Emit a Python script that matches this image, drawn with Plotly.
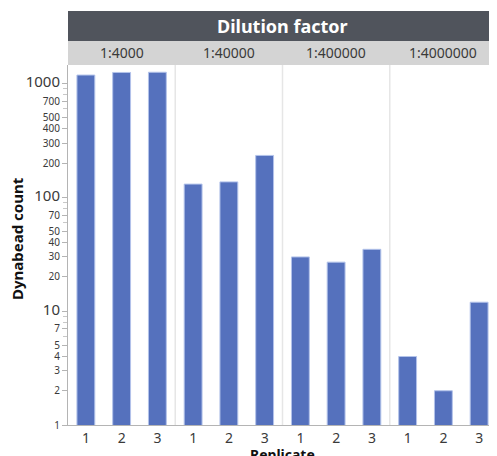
import plotly.graph_objects as go
from plotly.subplots import make_subplots

dilutions = ["1:4000", "1:40000", "1:400000", "1:4000000"]
replicates = ["1", "2", "3"]
counts = {
    "1:4000": [1190, 1255, 1260],
    "1:40000": [131, 137, 234],
    "1:400000": [30, 27, 35],
    "1:4000000": [4, 2, 12],
}
major_ticks = [1, 10, 100, 1000]
labeled_minor = [2, 3, 4, 5, 7, 20, 30, 40, 50, 70, 200, 300, 400, 500, 700]
unlabeled_minor = [6, 8, 9, 60, 80, 90, 600, 800, 900]

FONT = "Noto Sans"
BAR = "#5571bd"
EDGE = "#b3c3ea"
TXT = "#3a3a3a"

fig = make_subplots(rows=1, cols=4, shared_yaxes=True, horizontal_spacing=0)
for i, d in enumerate(dilutions):
    fig.add_trace(go.Bar(x=replicates, y=counts[d], width=0.5,
                         marker=dict(color=BAR, line=dict(color=EDGE, width=1)),
                         showlegend=False), row=1, col=i + 1)
    fig.update_xaxes(type="category", showline=True, linecolor="#b4b4b4", linewidth=1,
                     ticks="", showgrid=False, zeroline=False,
                     tickfont=dict(family=FONT, size=14, color=TXT), row=1, col=i + 1)

vals = sorted(major_ticks + labeled_minor)
texts = []
for v in vals:
    if v in major_ticks and v != 1:
        texts.append(f'<span style="font-size:15px">{v}</span>')
    else:
        texts.append(f'<span style="font-size:10px">{v}</span>')

fig.update_yaxes(type="log", range=[0, 3.164], showgrid=False, zeroline=False, automargin=False)
for c in [2, 3, 4]:
    fig.update_yaxes(showticklabels=False, ticks="", showline=False, row=1, col=c)

fig.update_yaxes(tickmode="array", tickvals=vals, ticktext=texts,
                 ticks="outside", ticklen=5, tickcolor="#b4b4b4",
                 showline=True, linecolor="#b4b4b4", linewidth=1,
                 tickfont=dict(family=FONT, size=10, color=TXT),
                 minor=dict(tickmode="array", tickvals=unlabeled_minor, ticks="outside",
                            ticklen=4, tickcolor="#c8c8c8", showgrid=False),
                 row=1, col=1)

H = 360.0
shapes = []
shapes.append(dict(type="rect", xref="paper", yref="paper", x0=0, x1=1,
                   y0=1 + 24 / H, y1=1 + 54 / H, fillcolor="#50545c", line=dict(width=0), layer="above"))
shapes.append(dict(type="rect", xref="paper", yref="paper", x0=0, x1=1,
                   y0=1, y1=1 + 24 / H, fillcolor="#d4d4d4", line=dict(width=0), layer="above"))
for b in [0.25, 0.5, 0.75]:
    shapes.append(dict(type="line", xref="paper", yref="paper", x0=b, x1=b, y0=0, y1=1,
                       line=dict(color="#e6e6e6", width=1.5), layer="below"))

annotations = [dict(text="<b>Dilution factor</b>", xref="paper", yref="paper", x=0.5, y=1 + 39 / H,
                    showarrow=False, font=dict(family=FONT, size=18, color="white"),
                    xanchor="center", yanchor="middle")]
for i, d in enumerate(dilutions):
    annotations.append(dict(text=d, xref="paper", yref="paper", x=(i + 0.5) / 4, y=1 + 12 / H,
                            showarrow=False, font=dict(family=FONT, size=14, color=TXT),
                            xanchor="center", yanchor="middle"))
annotations.append(dict(text="<b>Dynabead count</b>", xref="paper", yref="paper", x=-51 / 429,
                        y=(425 - 239) / H, textangle=-90, showarrow=False,
                        font=dict(family=FONT, size=15, color="#111"),
                        xanchor="center", yanchor="middle"))
annotations.append(dict(text="<b>Replicate</b>", xref="paper", yref="paper", x=0.5,
                        y=-29 / H, showarrow=False,
                        font=dict(family=FONT, size=14, color="#111"),
                        xanchor="center", yanchor="middle"))

fig.update_layout(width=497, height=456, margin=dict(l=60, r=8, t=57, b=39, autoexpand=False),
                  plot_bgcolor="white", paper_bgcolor="white", bargap=0.5,
                  shapes=shapes, annotations=annotations,
                  font=dict(family=FONT, color=TXT))

fig.write_html("out.html")
